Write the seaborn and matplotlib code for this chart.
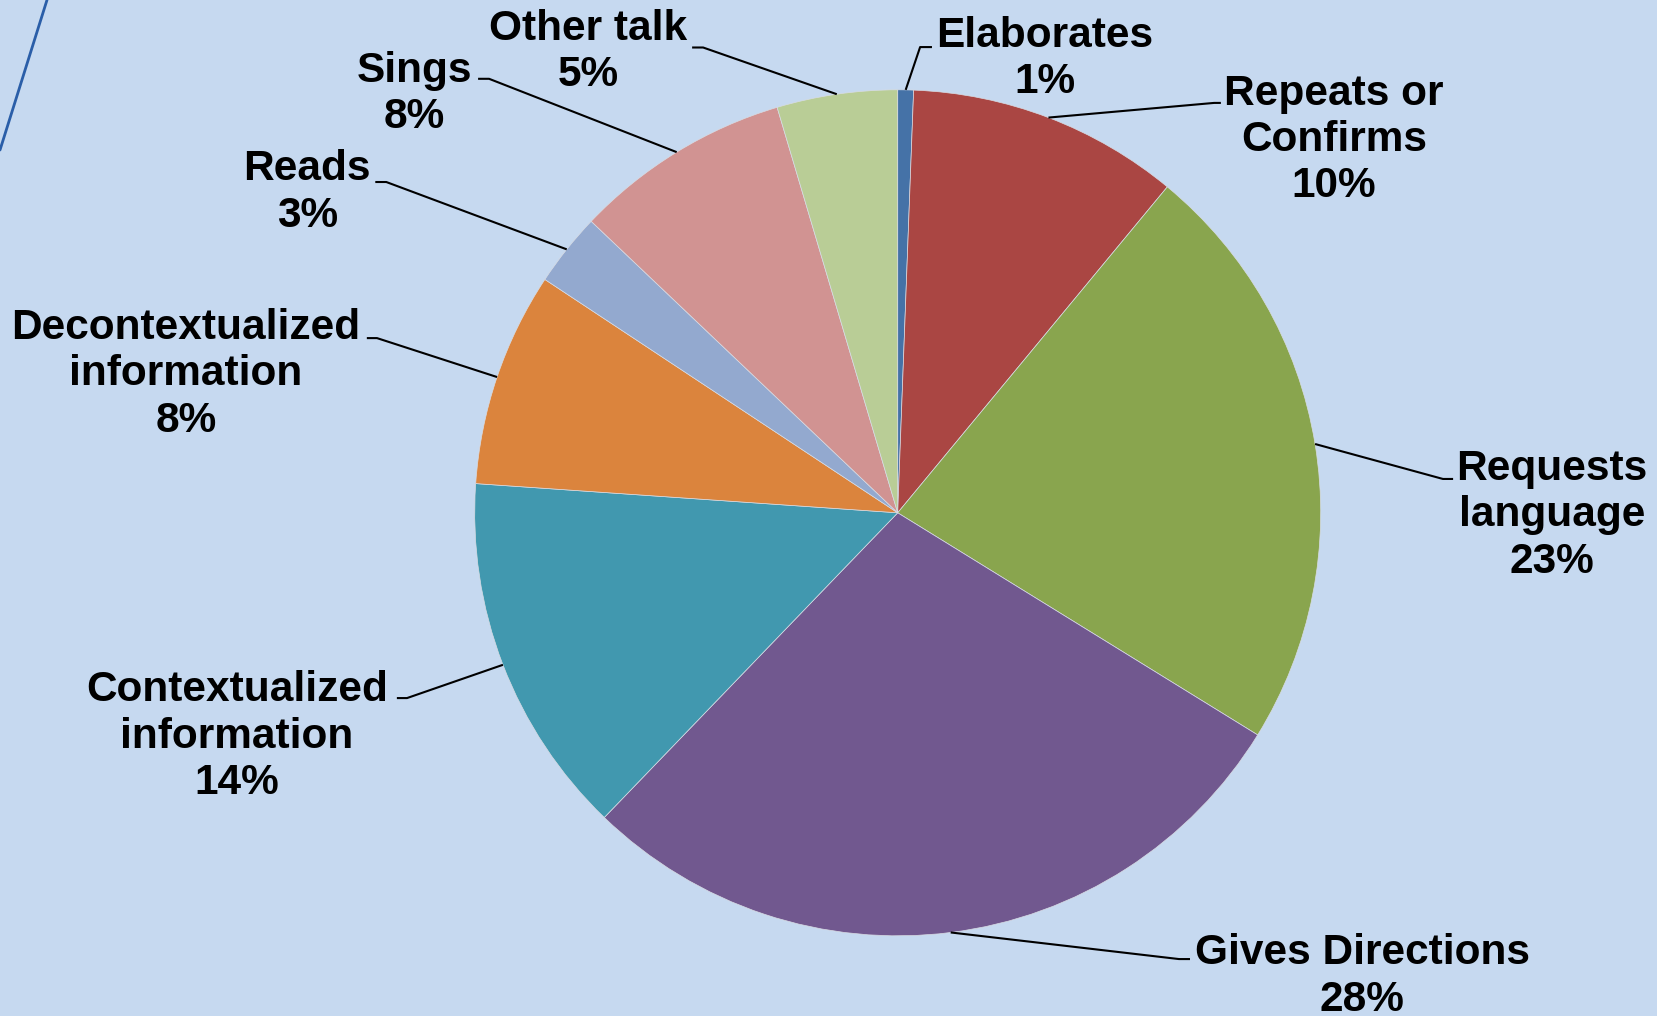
import numpy as np
import matplotlib
matplotlib.use("Agg")
import matplotlib.pyplot as plt
from matplotlib.lines import Line2D
import seaborn as sns

# Share of each type of teacher talk (percent)
categories = ["Elaborates", "Repeats or\nConfirms", "Requests\nlanguage", "Gives Directions",
              "Contextualized\ninformation", "Decontextualized\ninformation", "Reads",
              "Sings", "Other talk"]
shares = [0.6, 10.4, 22.8, 28.4, 13.9, 8.2, 2.8, 8.3, 4.6]
slice_colors = ["#4572A7", "#AA4643", "#89A54E", "#71588F", "#4198AF",
                "#DB843D", "#93A9CF", "#D19392", "#B9CD96"]

# Label placement: text centre, leader elbow, and end of the short horizontal tail
label_pos = [(0.348, 1.072), (1.031, 0.881), (1.547, -0.006), (1.098, -1.096),
             (-1.562, -0.529), (-1.683, 0.327), (-1.396, 0.757), (-1.143, 0.991),
             (-0.732, 1.089)]
elbows = [(0.053, 1.101), (0.748, 0.969), (1.289, 0.080), (0.665, -1.055),
          (-1.160, -0.438), (-1.231, 0.413), (-1.209, 0.782), (-0.966, 1.026),
          (-0.460, 1.100)]
tails = [0.028, 0.016, 0.024, 0.026, -0.024, -0.024, -0.026, -0.026, -0.026]

BG = "#C6D9F0"
sns.set_theme(style="white", rc={"figure.facecolor": BG, "axes.facecolor": BG})
plt.rcParams["font.family"] = ["Liberation Sans", "DejaVu Sans"]

W, H, DPI = 1658, 1016, 100
fig = plt.figure(figsize=(W / DPI, H / DPI), dpi=DPI)
ax = fig.add_axes([0, 0, 1, 1])

palette = sns.color_palette(slice_colors)
wedges, _ = ax.pie(shares, colors=palette, startangle=90, counterclock=False,
                   radius=1.0, center=(0, 0),
                   wedgeprops=dict(edgecolor="#D8DCE4", linewidth=0.5))

# One data unit equals the pie radius (423 px); centre sits at (897.7, 512.8) px
R_PX = 423.0
cx, cy = 897.7, 512.8
ax.set_xlim(-cx / R_PX, (W - cx) / R_PX)
ax.set_ylim(-(H - cy) / R_PX, cy / R_PX)
ax.set_aspect("auto")
ax.axis("off")

total = sum(shares)
for w, name, val, (tx, ty), (ex, ey), tail in zip(wedges, categories, shares,
                                                  label_pos, elbows, tails):
    mid = np.deg2rad((w.theta1 + w.theta2) / 2)
    ax0, ay0 = np.cos(mid), np.sin(mid)
    ax.plot([ax0, ex, ex + tail], [ay0, ey, ey], color="black", lw=1.5,
            solid_capstyle="butt", zorder=3)
    pct = f"{round(val / total * 100):.0f}%"
    ax.text(tx, ty, f"{name}\n{pct}", ha="center", va="center",
            fontsize=30.5, fontweight="bold", color="black", linespacing=1.2,
            zorder=4)

# Decorative slide stroke in the upper-left corner
fig.add_artist(Line2D([0 / W, 47 / W], [1 - 150 / H, 1.0], transform=fig.transFigure,
                      color="#2A5EA8", lw=2.0))

fig.savefig("out.png", dpi=DPI, facecolor=BG)
